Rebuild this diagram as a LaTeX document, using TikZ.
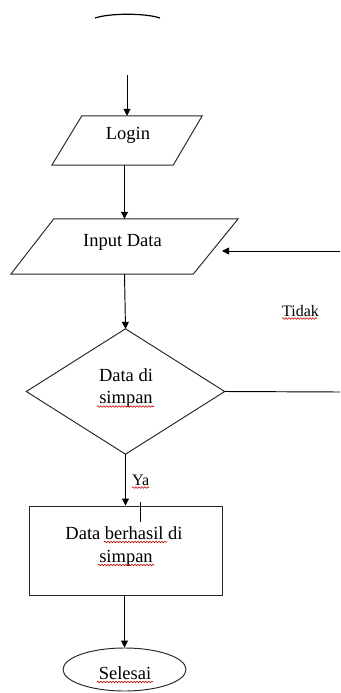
\documentclass[tikz,border=0pt]{standalone}
\usepackage{fontspec}
\setmainfont{Liberation Serif}
\usetikzlibrary{arrows.meta,shapes.geometric,decorations.pathmorphing}

\tikzset{
  outline/.style={draw=black!85, line width=0.95pt},
  hidden/.style={draw=none, inner sep=0pt, minimum width=#1},
  arr/.style={draw=black, line width=0.95pt, -{Triangle[length=7pt,width=7pt]}},
  plain/.style={draw=black, line width=0.95pt},
  txt/.style={inner sep=0pt, font=\fontsize{18.5}{22}\selectfont},
  lbl/.style={inner sep=0pt, font=\fontsize{16}{19}\selectfont},
  squiggle/.style={draw=red!85!black, line width=0.6pt,
    decorate, decoration={snake, amplitude=0.8pt, segment length=3pt}},
}

\begin{document}
\begin{tikzpicture}[x=1pt, y=-1pt]
  \useasboundingbox (0,0) rectangle (340,693);

  % top of the start terminal
  \draw[line width=1.2pt] (95,18) .. controls (110,13) and (145,13) .. (160,18);
  \coordinate (start) at (127,75);

  % Login (input/output parallelogram)
  \node[hidden=150pt, minimum height=49pt] (login) at (127,140.5) {};
  \draw[outline] ([xshift=30pt]login.north west) -- (login.north east)
    -- ([xshift=-29pt]login.south east) -- (login.south west) -- cycle;
  \node[txt, anchor=base] (t-login) at (128,139) {Login};

  % Input Data (input/output parallelogram)
  \node[hidden=227pt, minimum height=55pt] (input) at (124.5,246.5) {};
  \draw[outline] ([xshift=43pt]input.north west) -- (input.north east)
    -- ([xshift=-45pt]input.south east) -- (input.south west) -- cycle;
  \node[txt, anchor=base] (t-input) at (122.5,246.5) {Input Data};

  % decision
  \node[hidden=198pt, minimum height=125pt] (dec) at (125.5,391.5) {};
  \draw[outline] (dec.north) -- (dec.east) -- (dec.south) -- (dec.west) -- cycle;
  \node[txt, anchor=base] (t-dec1) at (126,381.5) {Data di};
  \node[txt, anchor=base] (t-dec2) at (126,403) {simpan};

  % process box
  \node[outline, inner sep=0pt, minimum width=193pt, minimum height=89pt] (box) at (125.5,550.5) {};
  \node[txt, anchor=base] (t-box1) at (124,539) {Data berhasil di};
  \node[txt, anchor=base] (t-box2) at (126,562) {simpan};

  % end terminal
  \node[outline, ellipse, inner sep=0pt, minimum width=123pt, minimum height=43pt] (end) at (124.5,669.5) {};
  \node[txt, anchor=base] (t-end) at (125,679) {Selesai};

  % branch labels
  \node[lbl, anchor=base west] (t-tidak) at (282,316) {Tidak};
  \node[lbl, anchor=base west] (t-ya) at (132,485) {Ya};

  % loop-back ends
  \coordinate (loop-out) at (340,392);
  \coordinate (loop-top) at (340,251);
  \coordinate (loop-in) at (222,251);

  % connectors
  \draw[arr] (start) -- (start |- login.north);
  \draw[arr] (login.south -| input.north) -- (input.north);
  \draw[arr] (input.south) -- (dec.north);
  \draw[arr] (dec.south) -- (dec.south |- box.north);
  \draw[arr] (box.south -| end.north) -- (end.north);
  \draw[plain] (dec.east) -- (loop-out);
  \draw[arr] (loop-top) -- (loop-in);

  % cursor mark
  \draw[line width=0.9pt] (140,502) -- (140,522);

  % spelling marks
  \draw[squiggle] (282,318.5) -- (317,318.5);
  \draw[squiggle] (97,406.5) -- (154,406.5);
  \draw[squiggle] (132,487.5) -- (149,487.5);
  \draw[squiggle] (104,542) -- (167,542);
  \draw[squiggle] (98,565) -- (154,565);
  \draw[squiggle] (97,682) -- (153,682);
\end{tikzpicture}
\end{document}
